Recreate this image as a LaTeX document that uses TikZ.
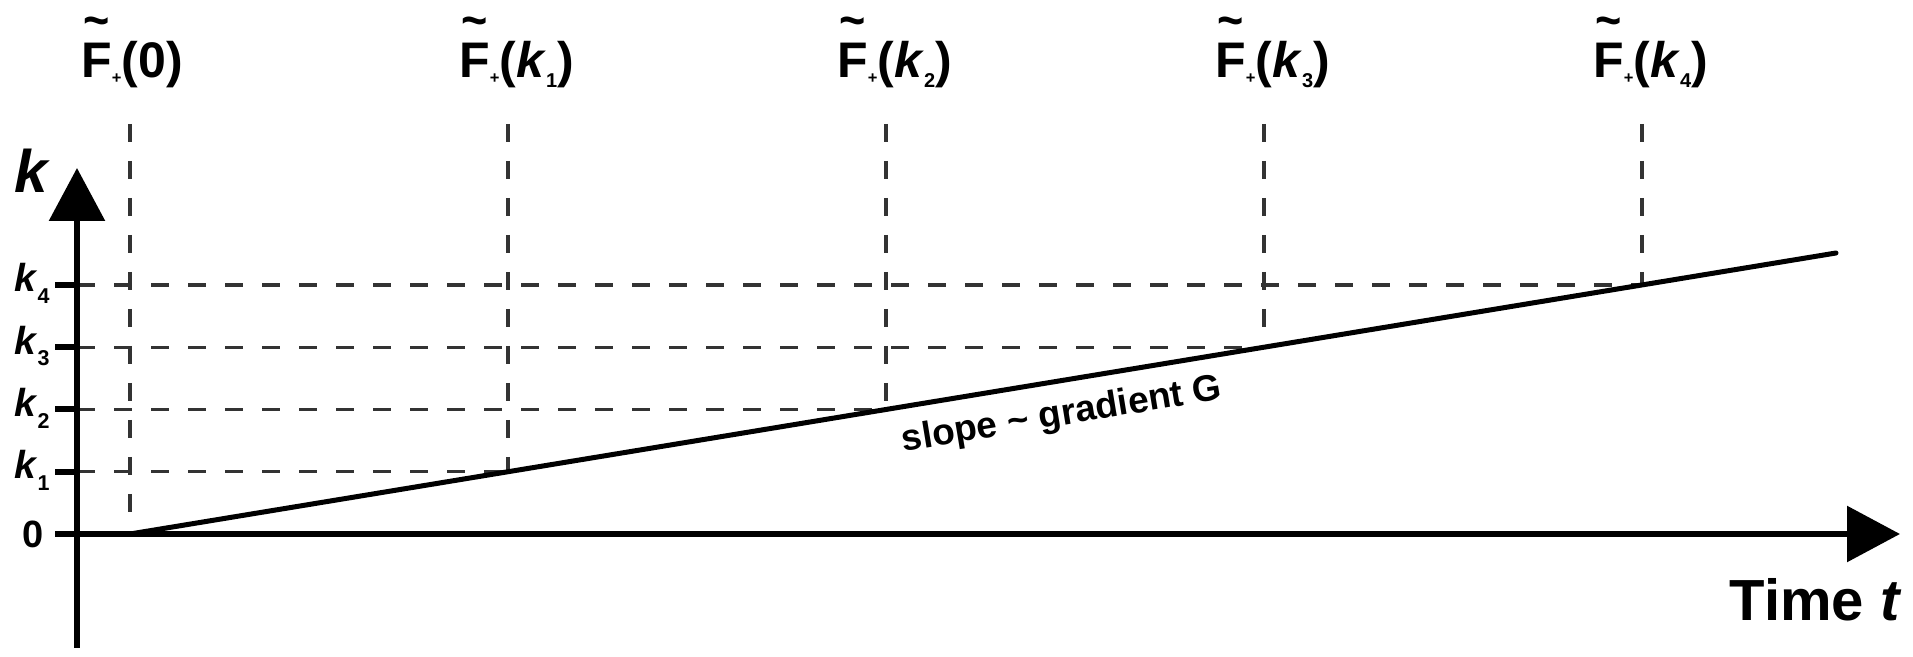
\documentclass[tikz,border=0pt]{standalone}
\usepackage{fontspec}
\usepackage{graphicx}
\setmainfont{Liberation Sans}
\usetikzlibrary{arrows.meta}
\newcommand{\tildeF}{\rlap{\makebox[0.611em]{\raisebox{0.8em}{\scalebox{0.9}[1.0]{\char"7E}}}}F}
\newcommand{\plussub}{\raisebox{-0.12em}{\scalebox{0.33}{+}}}
\newcommand{\Flab}[1]{\tildeF\plussub(#1)}
\newcommand{\hsub}[1]{\raisebox{-0.2em}{\scalebox{0.4}{#1}}}
\newcommand{\ksub}[1]{\raisebox{-0.3em}{\scalebox{0.55}{#1}}}
\begin{document}
\begin{tikzpicture}[x=0.5pt,y=-0.5pt,
  axisline/.style={line width=3pt,-{Triangle[length=26.5pt,width=27.5pt]}},
  tickmark/.style={line width=3pt},
  guide/.style={line width=1.6pt,black!80,dash pattern=on 9pt off 9.5pt},
  slopeline/.style={line width=2.5pt,line cap=round},
  hdr/.style={font=\bfseries\fontsize{25}{28}\selectfont,inner sep=0pt,anchor=base west},
  klab/.style={font=\bfseries\fontsize{19.5}{22}\selectfont,inner sep=0pt,anchor=base east}]
\useasboundingbox (0,0) rectangle (1913,657);
% axes points
\coordinate (ybot) at (77,648);
\coordinate (ytop) at (77,168);
\coordinate (xl) at (55,534);
\coordinate (xr) at (1900,534);
% tops of guide lines
\coordinate (T0) at (130,124);
\coordinate (T1) at (508,124);
\coordinate (T2) at (886,124);
\coordinate (T3) at (1264,124);
\coordinate (T4) at (1642,124);
% points on slope line
\coordinate (P0) at (130,534);
\coordinate (P1) at (508,471.75);
\coordinate (P2) at (886,409.5);
\coordinate (P3) at (1264,347.25);
\coordinate (P4) at (1642,285);
\coordinate (send) at (1836,253);
% axis points at levels
\coordinate (A1) at (77,471.75);
\coordinate (A2) at (77,409.5);
\coordinate (A3) at (77,347.25);
\coordinate (A4) at (77,285);
\coordinate (E1) at (55,471.75);
\coordinate (E2) at (55,409.5);
\coordinate (E3) at (55,347.25);
\coordinate (E4) at (55,285);
% guides
\draw[guide] (T0) -- (P0);
\draw[guide] (T1) -- (P1);
\draw[guide] (T2) -- (P2);
\draw[guide] (T3) -- (P3);
\draw[guide] (T4) -- (P4);
\draw[guide] (A1) -- (P1);
\draw[guide] (A2) -- (P2);
\draw[guide] (A3) -- (P3);
\draw[guide] (A4) -- (P4);
% axes
\draw[axisline] (ybot) -- (ytop);
\draw[axisline] (xl) -- (xr);
\draw[tickmark] (E1) -- ([xshift=1.5pt]A1);
\draw[tickmark] (E2) -- ([xshift=1.5pt]A2);
\draw[tickmark] (E3) -- ([xshift=1.5pt]A3);
\draw[tickmark] (E4) -- ([xshift=1.5pt]A4);
% slope
\draw[slopeline] (P0) -- node[sloped,below,pos=0.543,inner sep=7.5pt,font=\bfseries\fontsize{18.5}{21}\selectfont] (slopetext) {slope \textasciitilde{} gradient G} (send);
% header labels
\node[hdr] (f0) at (81,78) {\Flab{0}};
\node[hdr] (f1) at (459,78) {\Flab{\textit{k}\hsub{1}}};
\node[hdr] (f2) at (837,78) {\Flab{\textit{k}\hsub{2}}};
\node[hdr] (f3) at (1215,78) {\Flab{\textit{k}\hsub{3}}};
\node[hdr] (f4) at (1593,78) {\Flab{\textit{k}\hsub{4}}};
% axis labels
\node[font=\bfseries\itshape\fontsize{30}{34}\selectfont,anchor=base,inner sep=0pt] (klabel) at (31,193) {k};
\node[klab] (k1) at (50,478.75) {\textit{k}\ksub{1}};
\node[klab] (k2) at (50,416.5) {\textit{k}\ksub{2}};
\node[klab] (k3) at (50,354.25) {\textit{k}\ksub{3}};
\node[klab] (k4) at (50,292) {\textit{k}\ksub{4}};
\node[font=\bfseries\fontsize{19}{22}\selectfont,anchor=base east,inner sep=0pt] (zero) at (44,548) {0};
\node[font=\bfseries\fontsize{29}{32}\selectfont,anchor=base east,inner sep=0pt] (time) at (1902,620) {Time \textit{t}};
\end{tikzpicture}
\end{document}
